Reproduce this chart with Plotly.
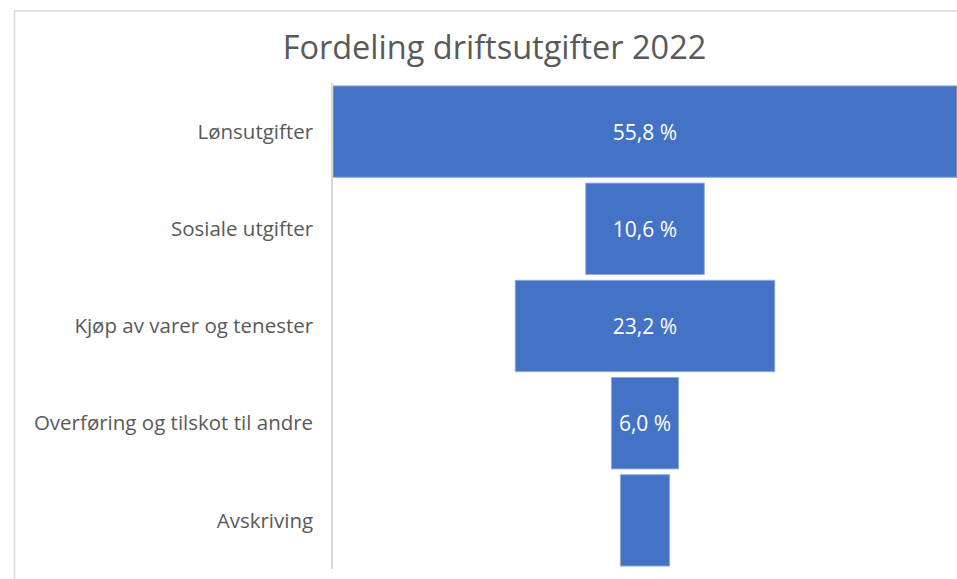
import plotly.graph_objects as go

categories = ["Lønsutgifter", "Sosiale utgifter", "Kjøp av varer og tenester",
              "Overføring og tilskot til andre", "Avskriving"]
values = [55.8, 10.6, 23.2, 6.0, 4.4]
show_label = [True, True, True, True, False]
title_text = "Fordeling driftsutgifter 2022"

labels = [(f"{v:.1f}".replace(".", ",") + " %") if s else "" for v, s in zip(values, show_label)]

W, H = 957, 579
ML, MR, MT, MB = 333, 0, 82.5, 10
PW, PH = W - ML - MR, H - MT - MB

fig = go.Figure(go.Funnel(
    y=categories,
    x=values,
    text=labels,
    textinfo="text",
    textposition="inside",
    insidetextanchor="middle",
    textfont=dict(color="white", size=21, family="Open Sans"),
    marker=dict(color="#4472C4", line=dict(color="#8FAADC", width=1)),
    connector=dict(visible=False),
    hoverinfo="y+x",
))

half = max(values) / 2
fig.update_layout(
    width=W, height=H,
    margin=dict(l=ML, r=MR, t=MT, b=MB),
    paper_bgcolor="white", plot_bgcolor="white",
    funnelgap=0.06,
    showlegend=False,
    title=dict(text=title_text, x=494.5 / W, xanchor="center", y=1 - 48 / H, yanchor="middle",
               font=dict(family="Open Sans", size=32.5, color="#595959")),
    xaxis=dict(range=[-half, half], visible=False, fixedrange=True),
    yaxis=dict(autorange="reversed", showline=True, linecolor="#D9D9D9", linewidth=1.5,
               ticks="", showgrid=False, ticklabelstandoff=14,
               tickfont=dict(family="Open Sans", size=20.5, color="#595959")),
    shapes=[dict(type="rect", xref="paper", yref="paper",
                 x0=(14.5 - ML) / PW, x1=1.05,
                 y0=-0.2, y1=(H - MB - 10.5) / PH,
                 line=dict(color="#D9D9D9", width=1.5), layer="below")],
)

fig.write_html("out.html",
               config={"displayModeBar": False},
               post_script="document.body.style.margin='0';"
                           "document.documentElement.style.overflow='hidden';")
